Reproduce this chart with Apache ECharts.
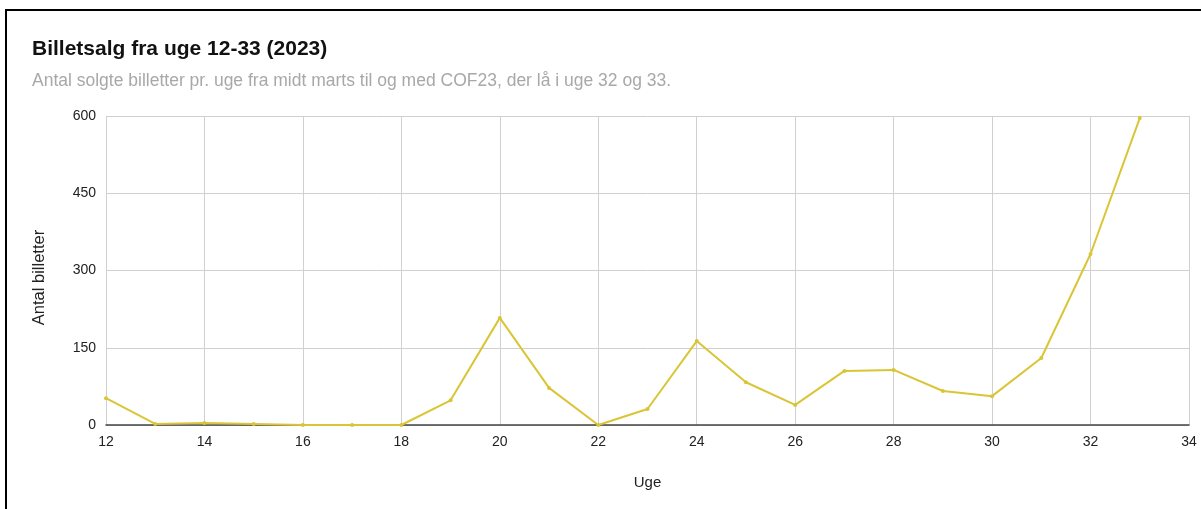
<!DOCTYPE html>
<html>
<head>
<meta charset="utf-8">
<script src="https://cdn.jsdelivr.net/npm/echarts@6/dist/echarts.min.js"></script>
<style>
html,body{margin:0;padding:0;background:#fff;}
#frame{position:absolute;left:5px;top:9px;width:1300px;height:600px;border-left:2px solid #000;border-top:2px solid #000;}
#chart{position:absolute;left:0;top:0;width:1201px;height:509px;}
</style>
</head>
<body>
<div id="frame"></div>
<div id="chart"></div>
<script>
const weeks = [12,13,14,15,16,17,18,19,20,21,22,23,24,25,26,27,28,29,30,31,32,33];
const tickets = [52,2,4,2,0,0,0,48,208,72,0,31,163,83,39,105,107,66,56,130,332,596];
const titleText = 'Billetsalg fra uge 12-33 (2023)';
const subtitleText = 'Antal solgte billetter pr. uge fra midt marts til og med COF23, der lå i uge 32 og 33.';
const xName = 'Uge';
const yName = 'Antal billetter';

const FONT = 'Liberation Sans, Arial, sans-serif';
const chart = echarts.init(document.getElementById('chart'), null, {renderer:'canvas'});
chart.setOption({
  backgroundColor: 'transparent',
  animation: false,
  title: [{
    text: titleText,
    left: 32, top: 39, padding: 0,
    textStyle: {fontFamily: FONT, fontSize: 21, fontWeight: 'bold', color: '#111'}
  }, {
    text: subtitleText,
    left: 32, top: 72, padding: 0,
    textStyle: {fontFamily: FONT, fontSize: 17.5, fontWeight: 'normal', color: '#a8a8a8'}
  }],
  grid: {left: 106, right: 12, top: 116, bottom: 84, containLabel: false},
  xAxis: {
    type: 'value',
    min: 12, max: 34, interval: 2,
    name: xName,
    nameLocation: 'middle',
    nameGap: 50,
    nameTextStyle: {fontFamily: FONT, fontSize: 15, color: '#222'},
    axisLine: {show: true, lineStyle: {color: '#444', width: 1.5}},
    axisTick: {show: false},
    axisLabel: {fontFamily: FONT, fontSize: 14, color: '#222', margin: 10, showMinLabel: true, showMaxLabel: true},
    splitLine: {show: true, lineStyle: {color: '#d0d0d0', width: 1}}
  },
  yAxis: {
    type: 'value',
    min: 0, max: 600, interval: 150,
    name: yName,
    nameLocation: 'middle',
    nameGap: 58,
    nameRotate: 90,
    nameTextStyle: {fontFamily: FONT, fontSize: 16.5, color: '#222', padding: [0, 14, 0, 0]},
    axisLine: {show: false},
    axisTick: {show: false},
    axisLabel: {fontFamily: FONT, fontSize: 14, color: '#222', margin: 10},
    splitLine: {show: true, lineStyle: {color: '#d0d0d0', width: 1}}
  },
  series: [{
    type: 'line',
    data: weeks.map((w, i) => [w, tickets[i]]),
    symbol: 'circle',
    symbolSize: 4,
    lineStyle: {color: '#d9c535', width: 2},
    itemStyle: {color: '#d9c535'},
    z: 5
  }]
});
</script>
</body>
</html>
